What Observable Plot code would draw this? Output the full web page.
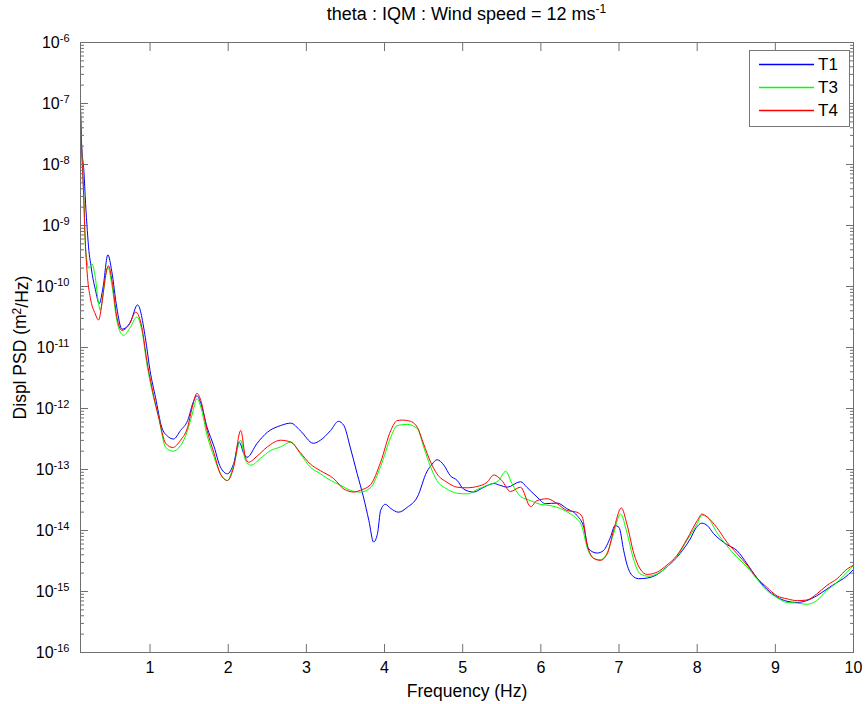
<!DOCTYPE html>
<html>
<head>
<meta charset="utf-8">
<script src="https://cdn.jsdelivr.net/npm/d3@7"></script>
<script src="https://cdn.jsdelivr.net/npm/@observablehq/plot@0.6"></script>
<style>
  body { margin: 0; background: #fff; font-family: "Liberation Sans", Arial, Helvetica, sans-serif; }
  #wrap { position: relative; width: 866px; height: 704px; }
  #title { position: absolute; left: 80px; width: 773px; top: 2px; text-align: center; font-size: 18px; color: #000; }
  #title sup { font-size: 12px; }
  #legend { position: absolute; left: 749px; top: 50px; width: 99px; height: 75px; border: 1px solid #777; background: #fff; }
  .row { position: absolute; left: 0; width: 99px; height: 20px; }
  .swatch { position: absolute; left: 9px; top: 8px; }
  .name { position: absolute; left: 68px; top: 0; font-size: 17px; line-height: 20px; color: #000; }
</style>
</head>
<body>
<div id="wrap">
  <div id="title">theta : IQM : Wind speed = 12 ms<sup>-1</sup></div>
  <div id="chart"></div>
  <div id="legend"></div>
</div>
<script>
// Displacement PSD of the theta mode, three cases, log10 of m^2/Hz against frequency in Hz
const seriesNames = ["T1", "T3", "T4"];
const seriesColors = ["#0000ff", "#00ff00", "#ff0000"];

const t1Freq = [0.11, 0.124, 0.153, 0.175, 0.197, 0.217, 0.239, 0.26, 0.30, 0.35, 0.40, 0.46, 0.51, 0.575, 0.64, 0.75, 0.84, 0.94, 1.00, 1.07, 1.15, 1.22, 1.30, 1.39, 1.48, 1.56, 1.60, 1.65, 1.73, 1.82, 1.90, 1.99, 2.07, 2.14, 2.20, 2.24, 2.37, 2.50, 2.67, 2.80, 2.92, 3.09, 3.18, 3.31, 3.41, 3.48, 3.56, 3.65, 3.73, 3.80, 3.86, 3.91, 3.95, 4.01, 4.08, 4.18, 4.29, 4.42, 4.54, 4.61, 4.67, 4.76, 4.84, 4.93, 5.01, 5.14, 5.27, 5.40, 5.48, 5.57, 5.74, 5.82, 5.95, 6.06, 6.21, 6.33, 6.46, 6.55, 6.61, 6.72, 6.80, 6.89, 6.95, 7.00, 7.06, 7.10, 7.17, 7.25, 7.36, 7.46, 7.61, 7.78, 7.91, 7.99, 8.06, 8.13, 8.21, 8.38, 8.51, 8.64, 8.76, 8.89, 9.02, 9.15, 9.28, 9.40, 9.53, 9.66, 9.79, 9.87, 10.0];
const t1LogPsd = [-7.05, -7.66, -8.10, -8.64, -9.08, -9.41, -9.62, -9.80, -10.05, -10.28, -10.00, -9.48, -9.75, -10.35, -10.70, -10.58, -10.30, -10.84, -11.38, -11.82, -12.31, -12.45, -12.50, -12.36, -12.20, -11.87, -11.79, -11.92, -12.31, -12.63, -12.96, -13.07, -12.90, -12.55, -12.74, -12.80, -12.57, -12.39, -12.28, -12.24, -12.36, -12.57, -12.52, -12.36, -12.21, -12.28, -12.63, -13.07, -13.45, -13.84, -14.19, -14.05, -13.67, -13.57, -13.64, -13.70, -13.62, -13.45, -13.04, -12.91, -12.84, -12.93, -13.10, -13.18, -13.32, -13.37, -13.29, -13.23, -13.26, -13.29, -13.20, -13.29, -13.45, -13.56, -13.55, -13.64, -13.75, -13.95, -14.30, -14.37, -14.33, -14.11, -13.92, -13.95, -14.33, -14.55, -14.74, -14.79, -14.78, -14.74, -14.60, -14.38, -14.14, -13.95, -13.88, -13.92, -14.05, -14.23, -14.33, -14.55, -14.77, -14.96, -15.09, -15.16, -15.18, -15.15, -15.07, -14.96, -14.85, -14.79, -14.64];

const t3Freq = [0.11, 0.124, 0.15, 0.171, 0.195, 0.214, 0.256, 0.299, 0.341, 0.363, 0.405, 0.46, 0.512, 0.575, 0.619, 0.661, 0.747, 0.831, 0.895, 0.959, 1.023, 1.109, 1.20, 1.29, 1.39, 1.48, 1.54, 1.60, 1.65, 1.73, 1.82, 1.90, 1.99, 2.07, 2.16, 2.22, 2.29, 2.41, 2.54, 2.67, 2.80, 2.92, 3.05, 3.18, 3.31, 3.44, 3.56, 3.69, 3.82, 3.95, 4.08, 4.16, 4.29, 4.42, 4.50, 4.59, 4.67, 4.80, 4.93, 5.06, 5.18, 5.31, 5.46, 5.55, 5.63, 5.74, 5.87, 5.99, 6.12, 6.25, 6.38, 6.46, 6.53, 6.59, 6.68, 6.76, 6.85, 6.93, 7.02, 7.10, 7.19, 7.27, 7.38, 7.49, 7.61, 7.74, 7.87, 8.00, 8.06, 8.13, 8.25, 8.38, 8.51, 8.64, 8.76, 8.89, 9.02, 9.15, 9.28, 9.40, 9.53, 9.66, 9.79, 9.92, 10.0];
const t3LogPsd = [-7.30, -7.75, -8.45, -9.30, -9.60, -9.70, -9.63, -9.85, -10.28, -10.39, -10.07, -9.68, -9.98, -10.56, -10.75, -10.80, -10.67, -10.50, -10.72, -11.27, -11.70, -12.14, -12.64, -12.70, -12.61, -12.36, -12.09, -11.84, -11.98, -12.44, -12.80, -13.07, -13.18, -12.93, -12.52, -12.85, -12.93, -12.82, -12.69, -12.63, -12.55, -12.74, -12.96, -13.07, -13.18, -13.26, -13.34, -13.37, -13.30, -12.95, -12.47, -12.28, -12.26, -12.33, -12.63, -12.96, -13.18, -13.32, -13.39, -13.40, -13.33, -13.26, -13.18, -13.03, -13.23, -13.44, -13.51, -13.57, -13.59, -13.64, -13.73, -13.81, -13.95, -14.27, -14.46, -14.48, -14.36, -14.05, -13.73, -14.03, -14.49, -14.71, -14.75, -14.71, -14.60, -14.43, -14.16, -13.89, -13.75, -13.78, -14.03, -14.25, -14.44, -14.60, -14.79, -14.98, -15.10, -15.18, -15.19, -15.21, -15.15, -14.98, -14.85, -14.68, -14.57];

const t4Freq = [0.11, 0.124, 0.15, 0.171, 0.20, 0.235, 0.299, 0.341, 0.384, 0.427, 0.469, 0.512, 0.575, 0.639, 0.725, 0.818, 0.895, 0.959, 1.023, 1.109, 1.20, 1.29, 1.39, 1.48, 1.54, 1.60, 1.65, 1.73, 1.82, 1.90, 1.99, 2.07, 2.16, 2.22, 2.26, 2.37, 2.50, 2.67, 2.80, 2.92, 3.05, 3.18, 3.35, 3.48, 3.61, 3.69, 3.82, 3.95, 4.08, 4.16, 4.23, 4.33, 4.42, 4.50, 4.59, 4.67, 4.80, 4.93, 5.06, 5.18, 5.31, 5.40, 5.50, 5.61, 5.74, 5.87, 5.95, 6.08, 6.21, 6.33, 6.46, 6.53, 6.59, 6.68, 6.76, 6.85, 6.93, 7.03, 7.10, 7.19, 7.27, 7.36, 7.49, 7.61, 7.74, 7.87, 8.00, 8.06, 8.13, 8.25, 8.38, 8.51, 8.64, 8.76, 8.89, 9.02, 9.15, 9.28, 9.40, 9.53, 9.66, 9.79, 9.92, 10.0];
const t4LogPsd = [-7.10, -7.70, -8.50, -9.25, -9.85, -10.18, -10.45, -10.55, -10.28, -9.85, -9.66, -9.90, -10.50, -10.72, -10.64, -10.42, -10.67, -11.21, -11.65, -12.14, -12.57, -12.64, -12.52, -12.31, -11.98, -11.75, -11.87, -12.36, -12.74, -13.07, -13.18, -12.96, -12.36, -12.80, -12.88, -12.78, -12.63, -12.52, -12.55, -12.72, -12.91, -13.02, -13.15, -13.32, -13.37, -13.34, -13.25, -12.88, -12.36, -12.20, -12.19, -12.21, -12.31, -12.58, -12.88, -13.07, -13.21, -13.29, -13.30, -13.28, -13.21, -13.09, -13.18, -13.36, -13.29, -13.61, -13.51, -13.48, -13.56, -13.67, -13.70, -13.78, -14.22, -14.46, -14.49, -14.38, -14.00, -13.63, -13.89, -14.38, -14.63, -14.72, -14.68, -14.57, -14.41, -14.14, -13.84, -13.73, -13.78, -13.95, -14.19, -14.38, -14.57, -14.77, -14.93, -15.07, -15.12, -15.15, -15.14, -15.04, -14.90, -14.79, -14.63, -14.57];

// axis ticks
const xTicks = [1, 2, 3, 4, 5, 6, 7, 8, 9, 10];
const yExponents = [-16, -15, -14, -13, -12, -11, -10, -9, -8, -7, -6];
const yTicks = yExponents.map(e => Math.pow(10, e));
const yMinor = [];
for (const e of yExponents.slice(0, -1)) for (let m = 2; m <= 9; m++) yMinor.push(m * Math.pow(10, e));

const freqs = [t1Freq, t3Freq, t4Freq];
const logs = [t1LogPsd, t3LogPsd, t4LogPsd];
const rows = [];
seriesNames.forEach((name, s) => {
  freqs[s].forEach((f, i) => rows.push({series: name, f, psd: Math.pow(10, logs[s][i])}));
});

const axisGray = "#6f6f6f";
const blank = () => "";

const chart = Plot.plot({
  width: 866,
  height: 704,
  marginLeft: 80,
  marginRight: 13,
  marginTop: 42,
  marginBottom: 52,
  style: {fontFamily: "'Liberation Sans', Arial, Helvetica, sans-serif", fontSize: "16px", color: "#000", background: "#fff"},
  x: {domain: [0.11, 10]},
  y: {type: "log", domain: [1e-16, 1e-6]},
  marks: [
    ...seriesNames.map((name, s) => Plot.line(rows.filter(d => d.series === name), {
      x: "f", y: "psd", stroke: seriesColors[s], strokeWidth: 1, curve: "monotone-x"
    })),
    Plot.frame({stroke: axisGray}),
    Plot.axisX(xTicks, {anchor: "bottom", tickSize: -8, tickPadding: 17, stroke: axisGray, fill: "#000",
      tickFormat: d => String(d), label: "Frequency (Hz)", labelAnchor: "center", labelOffset: 44, labelArrow: "none"}),
    Plot.axisX(xTicks, {anchor: "top", tickSize: -8, stroke: axisGray, tickFormat: blank, label: null}),
    Plot.axisY(yTicks, {anchor: "left", tickSize: -8, tickPadding: 19, stroke: axisGray, fill: "#000",
      tickFormat: d => "10^" + Math.round(Math.log10(d)), label: "Displ PSD (m^2/Hz)", labelAnchor: "center", labelOffset: 67, labelArrow: "none"}),
    Plot.axisY(yTicks, {anchor: "right", tickSize: -8, stroke: axisGray, tickFormat: blank, label: null}),
    Plot.axisY(yMinor, {anchor: "left", tickSize: -4, stroke: axisGray, tickFormat: blank, label: null}),
    Plot.axisY(yMinor, {anchor: "right", tickSize: -4, stroke: axisGray, tickFormat: blank, label: null})
  ]
});

// power-of-ten labels and the squared unit: raised exponents
d3.select(chart).selectAll("text").each(function () {
  const t = d3.select(this);
  const s = t.text();
  if (/^10\^/.test(s)) {
    t.text("10");
    t.append("tspan").attr("dy", "-0.55em").attr("font-size", "11px").text(s.slice(3));
  } else if (s.includes("m^2")) {
    const [a, b] = s.split("m^2");
    t.text(a + "m").attr("font-size", "17.5px");
    t.append("tspan").attr("dy", "-0.45em").attr("font-size", "12px").text("2");
    t.append("tspan").attr("dy", "0.45em").text(b);
  } else if (s === "Frequency (Hz)") {
    t.attr("font-size", "17.5px");
  }
});

document.getElementById("chart").appendChild(chart);

// legend: a short line sample and the series name per row
const legend = d3.select("#legend");
seriesNames.forEach((name, s) => {
  const row = legend.append("div").attr("class", "row").style("top", (4 + s * 23) + "px");
  row.append("svg").attr("class", "swatch").attr("width", 56).attr("height", 4)
    .append("line").attr("x1", 0).attr("x2", 55).attr("y1", 1.5).attr("y2", 1.5)
    .attr("stroke", seriesColors[s]).attr("stroke-width", 1.3);
  row.append("div").attr("class", "name").text(name);
});
</script>
</body>
</html>
